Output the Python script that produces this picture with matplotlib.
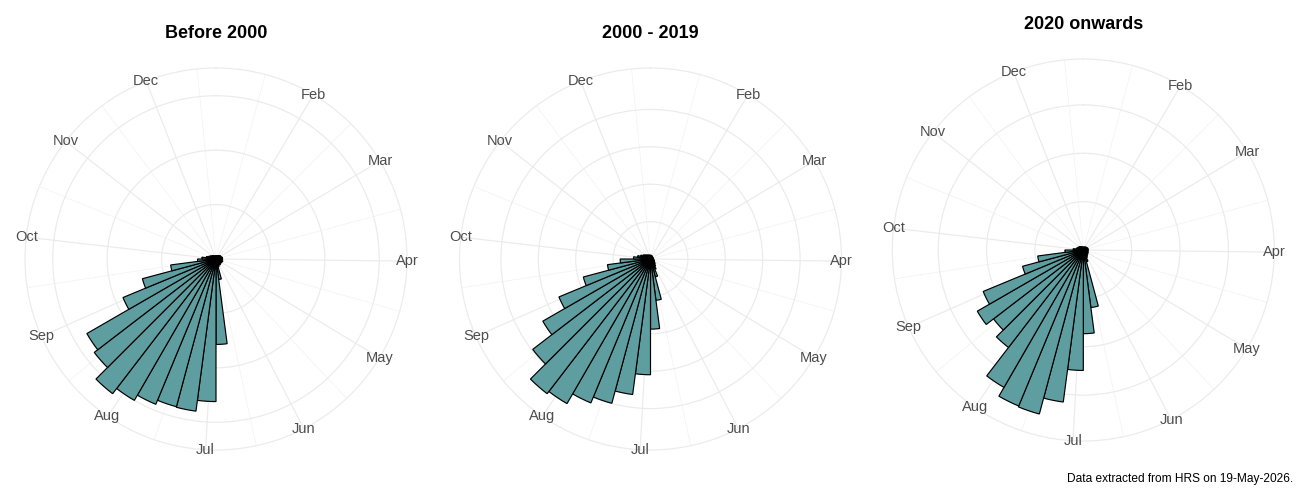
import numpy as np
import matplotlib
matplotlib.use("Agg")
import matplotlib.pyplot as plt

plt.rcParams['font.family'] = ['Liberation Sans', 'DejaVu Sans']

# ---------------- data ----------------
panel_titles = ["Before 2000", "2000 - 2019", "2020 onwards"]

# 48 seasonal bins across the year (bin index 0..47)
bin_index = list(range(48))

values_before_2000 = [0.6, 0.6, 0.6, 0.7, 0.7, 0.8, 0.9, 1.0, 1.0, 1.1, 1.2, 1.2,
                      1.2, 1.2, 1.3, 1.2, 1.2, 1.1, 1.2, 1.3, 1.1, 1.5, 3.8, 15.7,
                      26.2, 28.2, 28.1, 28.9, 30.0, 31.2, 28.2, 27.4, 18.5, 14.0, 8.4, 3.4,
                      2.6, 1.8, 1.4, 1.2, 1.0, 0.9, 0.8, 0.7, 0.6, 0.6, 0.6, 0.6]

values_2000_2019 = [2.0, 2.0, 1.8, 1.8, 1.7, 1.6, 1.5, 1.5, 1.5, 1.5, 1.5, 1.6,
                    1.7, 1.8, 2.0, 2.2, 2.5, 3.0, 3.6, 4.5, 6.0, 9.9, 22.3, 37.5,
                    61.9, 73.1, 79.9, 83.3, 89.3, 90.8, 79.4, 66.5, 53.0, 37.2, 23.2, 16.2,
                    9.1, 7.0, 5.5, 4.5, 3.8, 3.2, 2.8, 2.5, 2.3, 2.2, 2.1, 2.0]

values_2020_on = [0.6, 0.6, 0.6, 0.7, 0.7, 0.8, 0.8, 0.9, 0.9, 1.0, 1.0, 1.0,
                  1.0, 1.0, 1.0, 1.1, 1.1, 1.2, 1.3, 1.4, 1.7, 2.5, 12.0, 17.3,
                  24.9, 31.7, 35.1, 34.9, 32.8, 25.4, 23.4, 25.3, 22.4, 13.0, 9.5, 3.8,
                  2.1, 1.5, 1.3, 1.2, 1.1, 1.0, 0.9, 0.8, 0.7, 0.7, 0.6, 0.6]

radial_breaks = [[10, 20, 30], [20, 40, 60, 80], [10, 20, 30]]

month_labels = ["Jan", "Feb", "Mar", "Apr", "May", "Jun",
                "Jul", "Aug", "Sep", "Oct", "Nov", "Dec"]
month_start_day = [1, 32, 60, 91, 121, 152, 182, 213, 244, 274, 305, 335]

footnote = "Data extracted from HRS on 19-May-2026."

# ---------------- layout / style ----------------
W, H, DPI = 1300, 500, 100
FIRST_CENTRE_DAY, LAST_CENTRE_DAY = 5.5, 352.4   # day-of-year of first/last bin centre
N_BINS = len(bin_index)
BIN_DAYS = (LAST_CENTRE_DAY - FIRST_CENTRE_DAY) / (N_BINS - 1)
X_LO = FIRST_CENTRE_DAY - BIN_DAYS / 2
X_HI = LAST_CENTRE_DAY + BIN_DAYS / 2

centres_px = [(216, 259), (650.5, 259), (1083.3, 250)]
title_baseline_px = [38.3, 38.3, 29.3]
OUTER_PX = 191

FILL = "#5F9EA0"
GRID = "#EBEBEB"
GRID_MINOR = "#F2F2F2"
LABEL_COL = "#4D4D4D"


def day_to_theta(day):
    return (np.asarray(day, dtype=float) - X_LO) / (X_HI - X_LO) * 2 * np.pi


def bin_to_theta(i):
    return (np.asarray(i, dtype=float) + 0.5) / N_BINS * 2 * np.pi


fig = plt.figure(figsize=(W / DPI, H / DPI), dpi=DPI)
fig.patch.set_facecolor("white")

series = [values_before_2000, values_2000_2019, values_2020_on]

# month breaks inside the theta range
major_days = [d for d in month_start_day if X_LO <= d <= X_HI]
major_labels = [m for m, d in zip(month_labels, month_start_day) if X_LO <= d <= X_HI]
all_starts = month_start_day + [366]
minor_days = [(a + b) / 2 for a, b in zip(all_starts[:-1], all_starts[1:])]

for k in range(3):
    cx, cy = centres_px[k]
    ax = fig.add_axes([(cx - OUTER_PX) / W, (H - cy - OUTER_PX) / H,
                       2 * OUTER_PX / W, 2 * OUTER_PX / H], projection="polar")
    ax.set_theta_zero_location("N")
    ax.set_theta_direction(-1)
    vals = series[k]
    rmax = max(vals)
    outer = rmax * 1.125
    ax.set_ylim(0, outer)

    ax.set_xticks(day_to_theta(major_days))
    ax.set_xticks(day_to_theta(minor_days), minor=True)
    ax.set_yticks(radial_breaks[k])
    ax.set_xticklabels([])
    ax.set_yticklabels([])
    ax.tick_params(which="both", length=0)
    ax.set_axisbelow(True)
    ax.xaxis.grid(True, which="major", color=GRID, linewidth=0.85)
    ax.xaxis.grid(True, which="minor", color=GRID_MINOR, linewidth=0.5)
    ax.yaxis.grid(True, which="major", color=GRID, linewidth=0.85)
    ax.spines["polar"].set_color(GRID)
    ax.spines["polar"].set_linewidth(0.85)
    ax.set_facecolor("white")

    ax.bar(bin_to_theta(bin_index), vals, width=2 * np.pi / N_BINS, bottom=0,
           align="center", color=FILL, edgecolor="black", linewidth=0.85, zorder=3)

    for lab, th in zip(major_labels, day_to_theta(major_days)):
        ax.text(th, outer, lab, ha="center", va="center", fontsize=10.5,
                color=LABEL_COL, clip_on=False, zorder=5)

    fig.text(cx / W, 1 - title_baseline_px[k] / H, panel_titles[k],
             ha="center", va="baseline", fontsize=13, fontweight="bold", color="black")

fig.text(1293 / W, 1 - 481.7 / H, footnote, ha="right", va="baseline",
         fontsize=8.6, color="black")

fig.savefig("out.png", dpi=DPI, facecolor="white")
